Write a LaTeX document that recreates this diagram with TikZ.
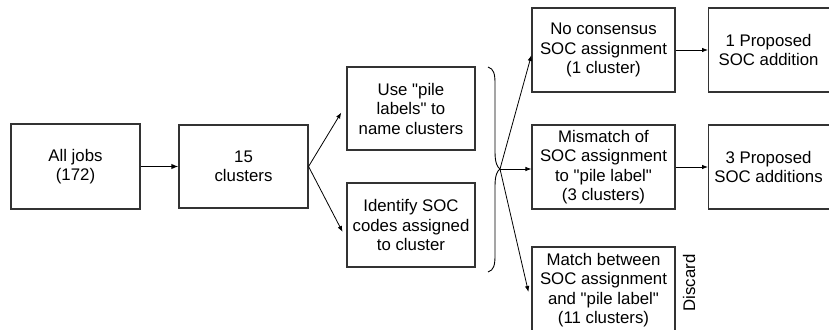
\documentclass[tikz,border=0pt]{standalone}
\usepackage{fontspec}
\setmainfont{Liberation Sans}[Ligatures=TeXOff]
\usetikzlibrary{arrows.meta,calc}
\begin{document}
\begin{tikzpicture}[x=1pt,y=-1pt,
  box/.style={draw=black!80,line width=1.1pt,align=center,inner sep=0pt,
    font=\fontsize{16.8}{19.5}\selectfont},
  conn/.style={line width=0.8pt,-{Latex[length=6pt,width=4.5pt]}},
  thick conn/.style={line width=1.6pt,-{Latex[length=7pt,width=5.5pt]}}]
\useasboundingbox (0,0) rectangle (829,329);
\clip (0,0) rectangle (829,329);
\node[box,minimum width=129pt,minimum height=85pt] (jobs) at (75.5,166.5) {All jobs\\(172)};
\node[box,minimum width=129pt,minimum height=83pt] (clusters) at (243.5,166.5) {15\\clusters};
\node[box,minimum width=128pt,minimum height=83pt] (use) at (411,108.5) {Use "pile\\labels" to\\name clusters};
\node[box,minimum width=128pt,minimum height=84pt] (ident) at (411,225) {Identify SOC\\codes assigned\\to cluster};
\node[box,minimum width=143pt,minimum height=84pt] (nocons) at (603.5,50) {No consensus\\SOC assignment\\(1 cluster)};
\node[box,minimum width=143pt,minimum height=84pt] (mismatch) at (603.5,167) {Mismatch of\\SOC assignment\\to "pile label"\\(3 clusters)};
\node[box,minimum width=143pt,minimum height=86pt] (match) at (603.5,290) {Match between\\SOC assignment\\and "pile label"\\(11 clusters)};
\node[box,minimum width=134pt,minimum height=84pt,anchor=west] (prop1) at (708,50) {\hspace*{-14pt}1 Proposed\\\hspace*{-14pt}SOC addition};
\node[box,minimum width=134pt,minimum height=84pt,anchor=west] (prop3) at (708,167) {\hspace*{-14pt}3 Proposed\\\hspace*{-14pt}SOC additions};
\node[rotate=90,font=\fontsize{16.8}{19.5}\selectfont] (discard) at (689,283) {Discard};
% brace
\coordinate (btop) at (488,67);
\coordinate (btip) at (500,169);
\coordinate (bbot) at (488,272);
\draw[line width=0.9pt] (btop) .. controls (494,69) and (495,74) .. (495,84)
  -- (495,152) .. controls (495,162) and (497,167) .. (btip)
  .. controls (497,171) and (495,176) .. (495,186)
  -- (495,255) .. controls (495,265) and (494,270) .. (bbot);
% connectors
\draw[thick conn] (jobs.east) -- (clusters.west);
\draw[conn,shorten >=10pt] (clusters.east) -- ([yshift=4.5pt]use.west);
\draw[conn,shorten >=8.4pt] (clusters.east) -- ([yshift=-14.4pt]ident.west);
\draw[conn] (btip) -- ([yshift=-5pt]nocons.west);
\draw[conn] (btip) -- (btip -| mismatch.west);
\draw[conn] (btip) -- ([xshift=-3pt,yshift=-2pt]match.west);
\draw[conn] (nocons.east) -- (nocons.east -| prop1.west);
\draw[conn] (mismatch.east) -- (mismatch.east -| prop3.west);
\end{tikzpicture}
\end{document}
